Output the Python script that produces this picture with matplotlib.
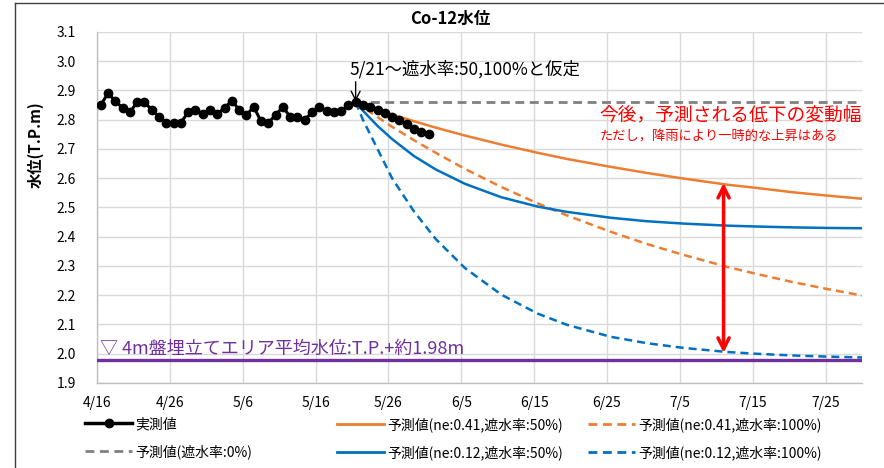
import matplotlib
matplotlib.use("Agg")
import matplotlib.pyplot as plt
from matplotlib.lines import Line2D
import pandas as pd

plt.rcParams['font.family'] = ['Noto Sans CJK JP', 'DejaVu Sans']

YEAR = "2020/"

# ---- data ----
obs_dates = ['4/16', '4/17', '4/18', '4/19', '4/20', '4/21', '4/22', '4/23', '4/24', '4/25',
             '4/26', '4/27', '4/28', '4/29', '4/30', '5/1', '5/2', '5/3', '5/4', '5/5',
             '5/6', '5/7', '5/8', '5/9', '5/10', '5/11', '5/12', '5/13', '5/14', '5/15',
             '5/16', '5/17', '5/18', '5/19', '5/20', '5/21', '5/22', '5/23', '5/24', '5/25',
             '5/26', '5/27', '5/28', '5/29', '5/30', '5/31']
obs_values = [2.85, 2.89, 2.865, 2.84, 2.825, 2.86, 2.86, 2.835, 2.81, 2.79,
              2.79, 2.79, 2.825, 2.835, 2.82, 2.835, 2.82, 2.84, 2.865, 2.835,
              2.815, 2.845, 2.795, 2.79, 2.815, 2.845, 2.81, 2.81, 2.80, 2.825,
              2.845, 2.83, 2.825, 2.83, 2.85, 2.86, 2.85, 2.845, 2.835, 2.822,
              2.81, 2.80, 2.785, 2.77, 2.757, 2.75]

pred_dates = ['5/21', '5/22', '5/24', '5/26', '5/29', '6/1', '6/5', '6/10', '6/15', '6/19',
              '6/25', '6/30', '7/5', '7/11', '7/15', '7/20', '7/25', '7/30']
pred_041_50 = [2.86, 2.851, 2.834, 2.818, 2.795, 2.773, 2.746, 2.715, 2.687, 2.666,
               2.639, 2.618, 2.599, 2.578, 2.567, 2.552, 2.540, 2.529]
pred_041_100 = [2.86, 2.843, 2.809, 2.776, 2.730, 2.687, 2.632, 2.570, 2.514, 2.473,
                2.417, 2.375, 2.338, 2.297, 2.273, 2.245, 2.220, 2.197]
pred_012_50 = [2.86, 2.831, 2.779, 2.734, 2.676, 2.630, 2.581, 2.535, 2.503, 2.485,
               2.465, 2.453, 2.445, 2.438, 2.435, 2.432, 2.430, 2.429]
pred_012_100 = [2.86, 2.80, 2.70, 2.60, 2.487, 2.392, 2.293, 2.202, 2.137, 2.099,
                2.058, 2.036, 2.020, 2.006, 2.000, 1.994, 1.990, 1.987]
pred_0_dates = ['5/21', '7/30']
pred_0_values = [2.86, 2.86]

ref_dates = ['4/16', '7/30']
ref_values = [1.98, 1.98]

range_date = '7/11'
range_top = 2.584
range_bottom = 2.003

xtick_labels = ['4/16', '4/26', '5/6', '5/16', '5/26', '6/5', '6/15', '6/25', '7/5', '7/15', '7/25']
yticks = [1.9, 2.0, 2.1, 2.2, 2.3, 2.4, 2.5, 2.6, 2.7, 2.8, 2.9, 3.0, 3.1]

labels = {
    'obs': '実測値',
    'p0': '予測値(遮水率:0%)',
    'a50': '予測値(ne:0.41,遮水率:50%)',
    'a100': '予測値(ne:0.41,遮水率:100%)',
    'b50': '予測値(ne:0.12,遮水率:50%)',
    'b100': '予測値(ne:0.12,遮水率:100%)',
}

# data points are plotted at mid-day
HALF = pd.Timedelta(hours=12)


def D(lst, off=HALF):
    return pd.to_datetime([YEAR + s for s in lst]) + off


def D1(s):
    return pd.Timestamp(YEAR + s)


# ---- figure ----
W, H = 884, 468
fig = plt.figure(figsize=(W / 100, H / 100), dpi=100)
ax = fig.add_axes([97 / W, 1 - 383 / H, (862 - 97) / W, (383 - 32) / H])

# outer chart border (left + top)
fig.add_artist(Line2D([15 / W, 15 / W], [0, 1 - 3 / H], color='#404040', lw=1.0, transform=fig.transFigure))
fig.add_artist(Line2D([15 / W, 1.0], [1 - 3 / H, 1 - 3 / H], color='#404040', lw=1.0, transform=fig.transFigure))

ORANGE = '#ED7D31'
BLUE = '#0070C0'
GRAY = '#808080'
PURPLE = '#7030A0'
dash = (0, (3.2, 2.0))

ax.plot(D(ref_dates, pd.Timedelta(0)), ref_values, color=PURPLE, lw=2.4, zorder=3)
ax.plot(D(pred_0_dates), pred_0_values, color=GRAY, lw=2.0, ls=dash, zorder=3)
ax.plot(D(pred_dates), pred_041_50, color=ORANGE, lw=1.8, zorder=4)
ax.plot(D(pred_dates), pred_041_100, color=ORANGE, lw=1.8, ls=dash, zorder=4)
ax.plot(D(pred_dates), pred_012_50, color=BLUE, lw=1.8, zorder=4)
ax.plot(D(pred_dates), pred_012_100, color=BLUE, lw=1.8, ls=dash, zorder=4)
ax.plot(D(obs_dates), obs_values, color='black', lw=2.2, marker='o', ms=6, zorder=5)

# axes styling
ax.set_xlim(D1('4/16'), D1('7/30'))
ax.set_ylim(1.9, 3.1)
ax.set_yticks(yticks)
ax.set_yticklabels([f"{v:.1f}" for v in yticks])
ax.set_xticks(D(xtick_labels, pd.Timedelta(0)))
ax.set_xticklabels(xtick_labels)
ax.grid(True, color='#D9D9D9', lw=1.0, zorder=0)
ax.set_axisbelow(True)
for s in ['top', 'right']:
    ax.spines[s].set_visible(False)
for s in ['left', 'bottom']:
    ax.spines[s].set_color('#BFBFBF')
    ax.spines[s].set_linewidth(1.0)
ax.tick_params(axis='both', length=0, labelsize=10, colors='black')
ax.tick_params(axis='y', pad=15)
ax.tick_params(axis='x', pad=9)

# title and y label
fig.text(450 / W, 1 - 19 / H, 'Co-12水位', ha='center', va='center', fontsize=12, fontweight='bold')
fig.text(36 / W, 1 - 145 / H, '水位(T.P.m)', ha='center', va='center', rotation=90,
         fontsize=11, fontweight='bold')

# annotations
d521 = D1('5/21') + HALF
ax.text(d521 - pd.Timedelta(hours=20), 2.972, '5/21～遮水率:50,100%と仮定',
        ha='left', va='center', fontsize=12.5, color='black', zorder=6)
ax.annotate('', xy=(d521, 2.862), xytext=(d521, 2.93),
            arrowprops=dict(arrowstyle='->', color='black', lw=1.0, mutation_scale=16,
                            shrinkA=0, shrinkB=0), zorder=6)

ax.text(D1('6/24'), 2.816, '今後，予測される低下の変動幅', ha='left', va='center',
        fontsize=13.5, color='red', zorder=6)
ax.text(D1('6/24'), 2.742, 'ただし，降雨により一時的な上昇はある', ha='left', va='center',
        fontsize=9.5, color='red', zorder=6)

ax.text(D1('4/16') + pd.Timedelta(hours=10), 2.016, '▽ 4m盤埋立てエリア平均水位:T.P.+約1.98m',
        ha='left', va='center', fontsize=13, color=PURPLE, zorder=6)

xr = D1(range_date)
ax.annotate('', xy=(xr, range_bottom), xytext=(xr, range_top),
            arrowprops=dict(arrowstyle='<->', color='red', lw=2.5, mutation_scale=20,
                            shrinkA=0, shrinkB=0), zorder=6)

# legends (three columns)
h_obs = Line2D([], [], color='black', lw=2.5, marker='o', ms=6)
h_p0 = Line2D([], [], color=GRAY, lw=2.0, ls=dash)
h_a50 = Line2D([], [], color=ORANGE, lw=2.0)
h_a100 = Line2D([], [], color=ORANGE, lw=2.0, ls=dash)
h_b50 = Line2D([], [], color=BLUE, lw=2.0)
h_b100 = Line2D([], [], color=BLUE, lw=2.0, ls=dash)

top_y = 1 - 417 / H
common = dict(loc='upper left', frameon=False, fontsize=10, borderpad=0, borderaxespad=0,
              handlelength=3.4, handletextpad=0.25, labelspacing=0.95, numpoints=1)
for x0, hs, ls in [(85, [h_obs, h_p0], [labels['obs'], labels['p0']]),
                   (337, [h_a50, h_b50], [labels['a50'], labels['b50']]),
                   (588, [h_a100, h_b100], [labels['a100'], labels['b100']])]:
    leg = fig.legend(hs, ls, bbox_to_anchor=(x0 / W, top_y), **common)

fig.savefig('out.png', dpi=100)
